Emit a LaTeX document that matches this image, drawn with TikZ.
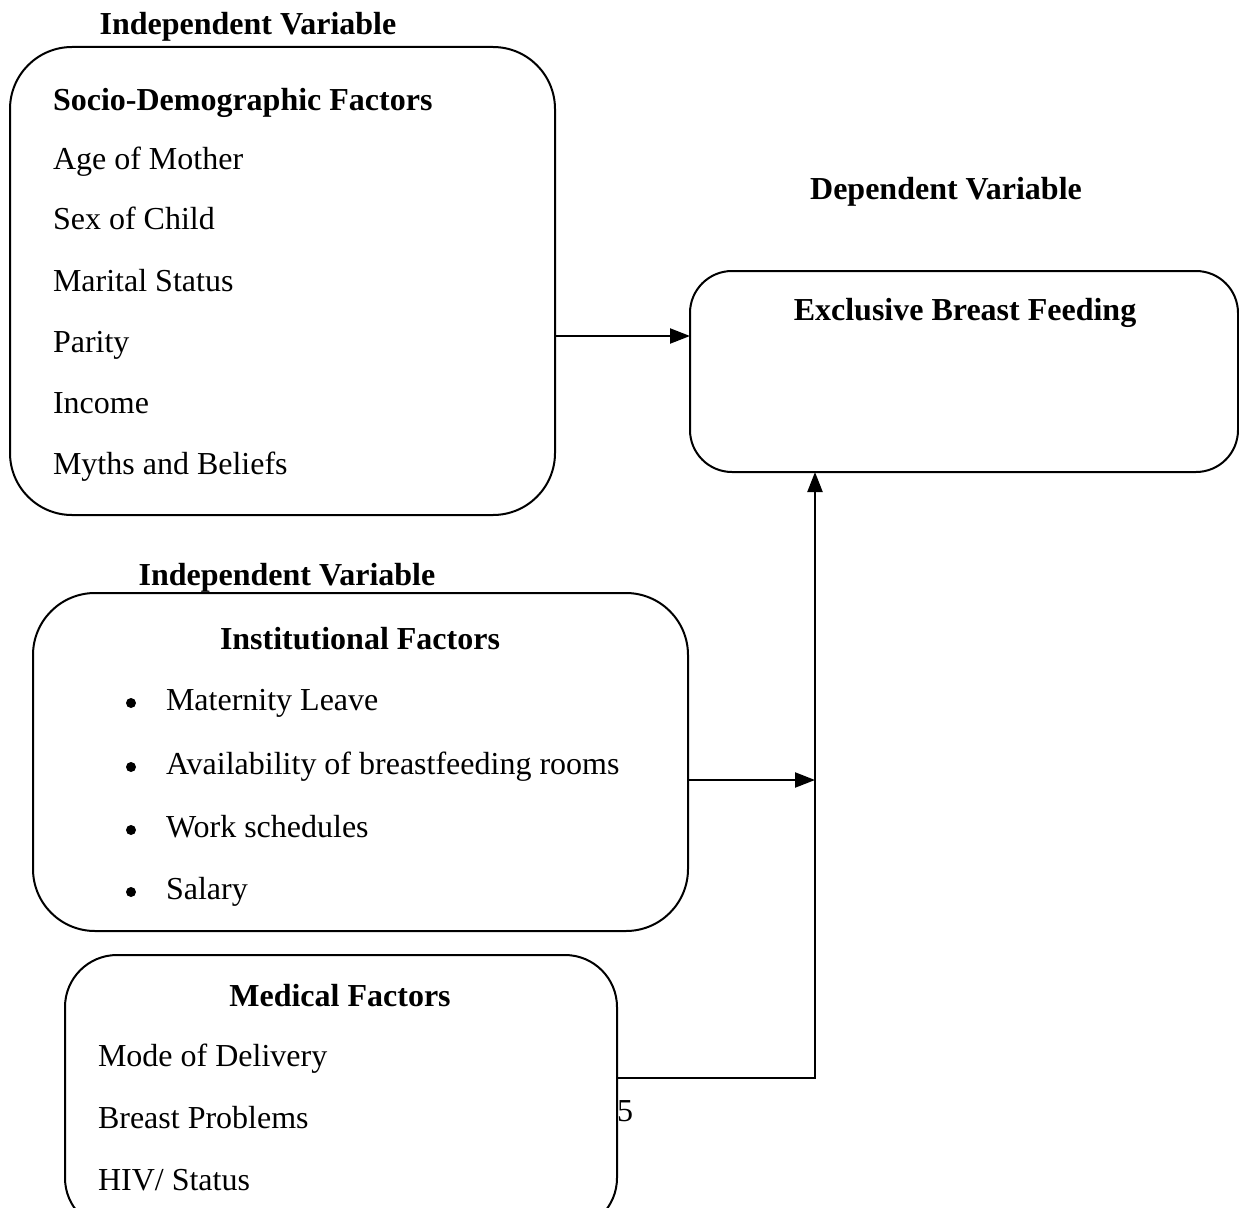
\documentclass[tikz,border=0pt]{standalone}
\usepackage{fontspec}
\setmainfont{Liberation Serif}
\usetikzlibrary{arrows.meta}
\begin{document}
\begin{tikzpicture}[x=1pt,y=-1pt,
  every node/.style={inner sep=0pt, outer sep=0pt, text height=22pt, text depth=7pt, font=\fontsize{32}{36}\selectfont},
  ttl/.style={font=\fontsize{32}{36}\selectfont\bfseries},
  item/.style={anchor=west},
  dot/.style={circle, fill, minimum size=10pt, text height=, text depth=},
  box/.style={draw, line width=2pt, rectangle, text height=, text depth=},
  conn/.style={line width=2.2pt},
  arr/.style={conn, -{Triangle[length=20pt,width=15pt]}}]
\useasboundingbox (0,0) rectangle (1239,1207);
\clip (0,0) rectangle (1239,1207);
% titles
\node[ttl] (iv1) at (248,27) {Independent Variable};
\node[ttl] (dv) at (946,192) {Dependent Variable};
\node[ttl] (iv2) at (287,578) {Independent Variable};
% box 1
\node[box, rounded corners=62pt, minimum width=545pt, minimum height=468pt] (socio) at (282.5,281) {};
\node[ttl, item] (s0) at (53,103) {Socio-Demographic Factors};
\node[item] (s1) at (53,162) {Age of Mother};
\node[item] (s2) at (53,222) {Sex of Child};
\node[item] (s3) at (53,284) {Marital Status};
\node[item] (s4) at (53,345) {Parity};
\node[item] (s5) at (53,406) {Income};
\node[item] (s6) at (53,467) {Myths and Beliefs};
% box 2
\node[box, rounded corners=42pt, minimum width=548pt, minimum height=201pt] (ebfbox) at (964,371.5) {};
\node[ttl] (ebf) at (965,313) {Exclusive Breast Feeding};
% box 3
\node[box, rounded corners=62pt, minimum width=655pt, minimum height=338pt] (instbox) at (360.5,762) {};
\node[ttl] (inst) at (360,642) {Institutional Factors};
\foreach \y/\t [count=\i] in {703/Maternity Leave,767/Availability of breastfeeding rooms,830/Work schedules,892/Salary}{
  \node[dot] (b\i) at (131,\y) {};
  \node[item] (i\i) at (166,\y) {\t};
}
% box 4
\node[box, rounded corners=52pt, minimum width=552pt, minimum height=275pt] (medbox) at (341,1092.5) {};
\node[ttl] (med) at (340,999) {Medical Factors};
\node[item] (m1) at (98,1059) {Mode of Delivery};
\node[item] (m2) at (98,1121) {Breast Problems};
\node[item] (m3) at (98,1183) {HIV/ Status};
\node[anchor=west] (five) at (617,1114) {5};
% connectors
\coordinate (trunk) at (815,780);
\draw[arr] (socio.east |- 0,336) -- (ebfbox.west |- 0,336);
\draw[arr] (instbox.east |- trunk) -- (trunk);
\draw[arr] (medbox.east |- 0,1078) -| (ebfbox.south -| trunk);
\end{tikzpicture}
\end{document}
